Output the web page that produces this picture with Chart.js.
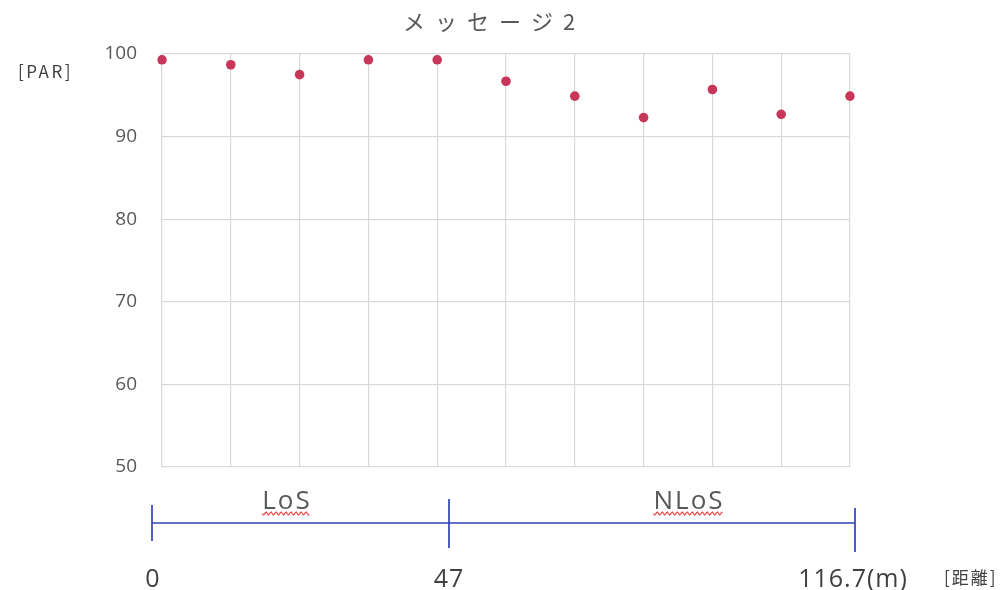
<!DOCTYPE html>
<html lang="ja">
<head>
<meta charset="utf-8">
<title>メッセージ2</title>
<script src="https://cdn.jsdelivr.net/npm/chart.js@4/dist/chart.umd.min.js"></script>
<style>
  html, body { margin: 0; padding: 0; background: #ffffff; }
  #wrap { width: 1002px; height: 590px; position: relative; }
</style>
</head>
<body>
<div id="wrap"><canvas id="chart" width="1002" height="590"></canvas></div>
<script>
// Measurement points along the route (11 positions, evenly spaced)
const positions = ['1', '2', '3', '4', '5', '6', '7', '8', '9', '10', '11'];
// Packet arrival rate [PAR] at each position
const parValues = [99.3, 98.7, 97.5, 99.3, 99.3, 96.7, 94.9, 92.3, 95.7, 92.7, 94.9];
// Y axis range and step
const yMin = 50;
const yMax = 100;
const yStep = 10;
// Distance ruler under the plot
const distanceLabels = ['0', '47', '116.7(m)'];
const zoneLabels = ['LoS', 'NLoS'];
const titleText = 'メッセージ2';
const yUnitText = '[PAR]';
const xUnitText = '[距離]';

const JP_FONT = '"Noto Sans CJK JP", "Noto Sans", sans-serif';
const LATIN_FONT = '"Open Sans", "Noto Sans CJK JP", sans-serif';
const TEXT_GREY = '#595959';

function spaced(ctx, px) {
  if ('letterSpacing' in ctx) ctx.letterSpacing = px + 'px';
}

// Title, unit captions and the LoS / NLoS distance ruler
const decorations = {
  id: 'decorations',
  afterDraw(chart) {
    const ctx = chart.ctx;
    const area = chart.chartArea;
    ctx.save();

    // title with wide letter spacing
    ctx.fillStyle = TEXT_GREY;
    ctx.font = '22px ' + JP_FONT;
    ctx.textBaseline = 'middle';
    ctx.textAlign = 'left';
    spaced(ctx, 10);
    ctx.fillText(titleText, 403, 22);

    // y unit
    ctx.fillStyle = '#404040';
    ctx.font = '17px ' + JP_FONT;
    spaced(ctx, 2.5);
    ctx.fillText(yUnitText, 18, 72);

    // ruler
    spaced(ctx, 0);
    const x0 = area.left - 10;
    const xMid = 449;
    const x1 = area.right + 5;
    const yLine = 523;
    ctx.strokeStyle = '#3044B8';
    ctx.lineWidth = 1.7;
    ctx.beginPath();
    ctx.moveTo(x0, yLine); ctx.lineTo(x1, yLine);
    ctx.moveTo(x0, 505); ctx.lineTo(x0, 541);
    ctx.moveTo(xMid, 499); ctx.lineTo(xMid, 548);
    ctx.moveTo(x1, 508); ctx.lineTo(x1, 552);
    ctx.stroke();

    // zone labels with red wavy underline
    ctx.fillStyle = TEXT_GREY;
    ctx.font = '26px ' + LATIN_FONT;
    ctx.textBaseline = 'alphabetic';
    ctx.textAlign = 'left';
    spaced(ctx, 2);
    const zoneX = [286, 688];
    zoneLabels.forEach((t, i) => {
      const w = ctx.measureText(t).width - 2;
      const sx = zoneX[i] - w / 2;
      ctx.fillText(t, sx, 509);
      ctx.strokeStyle = '#F04848';
      ctx.lineWidth = 1.2;
      ctx.beginPath();
      for (let x = 0; x <= w; x += 1) {
        const yy = 513.5 + Math.sin(x * Math.PI / 2.5) * 1.5;
        if (x === 0) ctx.moveTo(sx + x, yy); else ctx.lineTo(sx + x, yy);
      }
      ctx.stroke();
    });

    // distance labels
    spaced(ctx, 1);
    ctx.fillStyle = '#404040';
    ctx.font = '25px ' + LATIN_FONT;
    ctx.textAlign = 'center';
    ctx.fillText(distanceLabels[0], x0 + 1, 587);
    ctx.fillText(distanceLabels[1], xMid, 587);
    ctx.fillText(distanceLabels[2], x1 - 2, 587);
    ctx.font = '17px ' + JP_FONT;
    ctx.textAlign = 'left';
    spaced(ctx, 2);
    ctx.fillText(xUnitText, 944, 584);

    ctx.restore();
  }
};

new Chart(document.getElementById('chart'), {
  type: 'line',
  data: {
    labels: positions,
    datasets: [{
      label: 'PAR',
      data: parValues,
      showLine: false,
      pointRadius: 4.8,
      pointHoverRadius: 4.8,
      pointBackgroundColor: '#C8365A',
      pointBorderColor: '#C8365A',
      pointBorderWidth: 0
    }]
  },
  options: {
    responsive: false,
    animation: false,
    layout: { padding: { left: 0, right: 152, top: 54, bottom: 123 } },
    plugins: {
      legend: { display: false },
      title: { display: false },
      tooltip: { enabled: false }
    },
    scales: {
      x: {
        offset: false,
        grid: { color: '#D9D9D9', lineWidth: 1.2, drawTicks: false },
        border: { display: false },
        ticks: { display: false },
        afterFit(scale) { scale.height = 0; }
      },
      y: {
        min: yMin,
        max: yMax,
        grid: { color: '#D9D9D9', lineWidth: 1.2, drawTicks: false },
        border: { display: false },
        ticks: {
          stepSize: yStep,
          color: TEXT_GREY,
          padding: 25,
          font: { family: LATIN_FONT, size: 19 }
        },
        afterFit(scale) { scale.width = 162; }
      }
    }
  },
  plugins: [decorations]
});
</script>
</body>
</html>
